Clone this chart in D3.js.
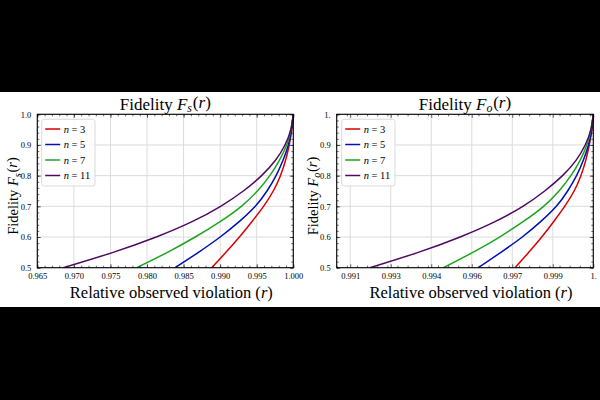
<!DOCTYPE html>
<html>
<head>
<meta charset="utf-8">
<script src="https://cdn.jsdelivr.net/npm/d3@7"></script>
<style>
  body { margin: 0; background: #000; }
  svg { display: block; }
  text { font-family: "Liberation Serif", "DejaVu Serif", serif; fill: #000; }
</style>
</head>
<body>
<svg width="600" height="400"></svg>
<script>
var fidelity = [0.5, 0.55, 0.6, 0.65, 0.7, 0.75, 0.8, 0.85, 0.9, 0.95, 1.0];

// F_s(r) panel: r values for each n
var rs3  = [0.98884, 0.99079, 0.99263, 0.99433, 0.99593, 0.99726, 0.99824, 0.99894, 0.99944, 0.99979, 1.0];
var rs5  = [0.98383, 0.98703, 0.99000, 0.99260, 0.99480, 0.99640, 0.99764, 0.99859, 0.99932, 0.99976, 1.0];
var rs7  = [0.97859, 0.98279, 0.98659, 0.98999, 0.99289, 0.99509, 0.99679, 0.99809, 0.99909, 0.99966, 1.0];
var rs11 = [0.96856, 0.97536, 0.98126, 0.98616, 0.99006, 0.99316, 0.99566, 0.99756, 0.99886, 0.99966, 1.0];

// F_o(r) panel: r values for each n
var ro3  = [0.99710, 0.99761, 0.99809, 0.99853, 0.99894, 0.99929, 0.99954, 0.99972, 0.99985, 0.99995, 1.0];
var ro5  = [0.99574, 0.99658, 0.99737, 0.99805, 0.99863, 0.99905, 0.99938, 0.99963, 0.99982, 0.99994, 1.0];
var ro7  = [0.99445, 0.99554, 0.99653, 0.99740, 0.99816, 0.99873, 0.99917, 0.99951, 0.99976, 0.99991, 1.0];
var ro11 = [0.99173, 0.99352, 0.99507, 0.99636, 0.99739, 0.99820, 0.99886, 0.99936, 0.99970, 0.99991, 1.0];

var nValues = [3, 5, 7, 11];
var colors = ["#d80000", "#0010b4", "#1ea51e", "#4e0a62"];

var yTicks = [0.5, 0.6, 0.7, 0.8, 0.9, 1.0];
var yTickLabelsS = ["0.5", "0.6", "0.7", "0.8", "0.9", "1.0"];
var yTickLabelsO = ["0.5", "0.6", "0.7", "0.8", "0.9", "1."];

var xTicksS = [0.965, 0.970, 0.975, 0.980, 0.985, 0.990, 0.995, 1.000];
var xTickLabelsS = ["0.965", "0.970", "0.975", "0.980", "0.985", "0.990", "0.995", "1.000"];
var xTicksO = [0.991, 0.9925, 0.994, 0.9955, 0.997, 0.9985, 1.0];
var xTickLabelsO = ["0.991", "0.993", "0.994", "0.996", "0.997", "0.999", "1."];

var svg = d3.select("svg");
svg.append("rect").attr("width", 600).attr("height", 400).attr("fill", "#000");
svg.append("rect").attr("y", 92).attr("width", 600).attr("height", 215).attr("fill", "#fff");

var panels = [
  { id: "s", sub: "s", left: 37.3, right: 293.3, domain: [0.965, 1.0], xTicks: xTicksS, xLabels: xTickLabelsS,
    minorStep: 0.001, yLabels: yTickLabelsS, series: [rs3, rs5, rs7, rs11], legendX: 41.7 },
  { id: "o", sub: "o", left: 336.7, right: 593.3, domain: [0.9905, 1.0], xTicks: xTicksO, xLabels: xTickLabelsO,
    minorStep: 0.000375, yLabels: yTickLabelsO, series: [ro3, ro5, ro7, ro11], legendX: 341.7 }
];
var plotTop = 114.3, plotBottom = 267.7;

function mathLabel(sel, sub) {
  sel.append("tspan").text("Fidelity ");
  sel.append("tspan").attr("font-style", "italic").text("F");
  sel.append("tspan").attr("font-style", "italic").attr("font-size", "70%").attr("dy", "0.25em").text(sub);
  sel.append("tspan").attr("dy", "-0.25em").attr("dx", "0.05em").text("(");
  sel.append("tspan").attr("font-style", "italic").text("r");
  sel.append("tspan").text(")");
}

panels.forEach(function(p) {
  var x = d3.scaleLinear().domain(p.domain).range([p.left, p.right]);
  var y = d3.scaleLinear().domain([0.5, 1.0]).range([plotBottom, plotTop]);
  var g = svg.append("g");

  g.append("clipPath").attr("id", "clip-" + p.id)
    .append("rect").attr("x", p.left).attr("y", plotTop - 1)
    .attr("width", p.right - p.left + 1).attr("height", plotBottom - plotTop + 1);

  // grid
  g.selectAll("line.gx").data(p.xTicks).enter().append("line")
    .attr("x1", d => x(d)).attr("x2", d => x(d)).attr("y1", plotTop).attr("y2", plotBottom)
    .attr("stroke", "#dcdcdc").attr("stroke-width", 1);
  g.selectAll("line.gy").data(yTicks).enter().append("line")
    .attr("y1", d => y(d)).attr("y2", d => y(d)).attr("x1", p.left).attr("x2", p.right)
    .attr("stroke", "#dcdcdc").attr("stroke-width", 1);

  // curves: smooth spline through the read points (F evenly spaced)
  var line = d3.line().curve(d3.curveNatural)
    .x(d => x(d[0])).y(d => y(d[1]));
  p.series.forEach(function(rv, i) {
    g.append("path")
      .datum(rv.map((r, k) => [r, fidelity[k]]))
      .attr("d", line)
      .attr("clip-path", "url(#clip-" + p.id + ")")
      .attr("fill", "none").attr("stroke", colors[i]).attr("stroke-width", 1.5);
  });

  // axes with inward ticks on all sides
  var minorX = d3.range(p.domain[0], p.domain[1] + 1e-9, p.minorStep);
  var minorY = d3.range(0.5, 1.0001, 0.02);
  g.append("g").attr("transform", `translate(0,${plotBottom})`)
    .call(d3.axisBottom(x).tickValues(minorX).tickSize(-2).tickFormat(""));
  g.append("g").attr("transform", `translate(0,${plotTop})`)
    .call(d3.axisTop(x).tickValues(minorX).tickSize(-2).tickFormat(""));
  g.append("g").attr("transform", `translate(${p.left},0)`)
    .call(d3.axisLeft(y).tickValues(minorY).tickSize(-2).tickFormat(""));
  g.append("g").attr("transform", `translate(${p.right},0)`)
    .call(d3.axisRight(y).tickValues(minorY).tickSize(-2).tickFormat(""));

  g.append("g").attr("class", "xAxis").attr("transform", `translate(0,${plotBottom})`)
    .call(d3.axisBottom(x).tickValues(p.xTicks).tickSize(-3.5).tickPadding(5)
      .tickFormat((d, i) => p.xLabels[i]));
  g.append("g").attr("transform", `translate(0,${plotTop})`)
    .call(d3.axisTop(x).tickValues(p.xTicks).tickSize(-3.5).tickFormat(""));
  g.append("g").attr("class", "yAxis").attr("transform", `translate(${p.left},0)`)
    .call(d3.axisLeft(y).tickValues(yTicks).tickSize(-3.5).tickPadding(6)
      .tickFormat((d, i) => p.yLabels[i]));
  g.append("g").attr("transform", `translate(${p.right},0)`)
    .call(d3.axisRight(y).tickValues(yTicks).tickSize(-3.5).tickFormat(""));

  g.selectAll(".domain").remove();
  g.selectAll(".tick line").attr("stroke", "#222").attr("stroke-width", 0.7);
  g.selectAll(".tick text").attr("font-family", "Liberation Serif, serif").attr("font-size", 8.5).attr("fill", "#000");

  g.append("rect").attr("x", p.left).attr("y", plotTop)
    .attr("width", p.right - p.left).attr("height", plotBottom - plotTop)
    .attr("fill", "none").attr("stroke", "#000").attr("stroke-width", 1.1);

  // titles
  var cx = (p.left + p.right) / 2;
  g.append("text").attr("x", cx).attr("y", 109.5).attr("text-anchor", "middle")
    .attr("font-size", 17).call(mathLabel, p.sub);
  var xl = g.append("text").attr("x", cx + 6).attr("y", 297.5).attr("text-anchor", "middle").attr("font-size", 16.5);
  xl.append("tspan").text("Relative observed violation (");
  xl.append("tspan").attr("font-style", "italic").text("r");
  xl.append("tspan").text(")");
  g.append("text").attr("transform", `translate(${p.left - 19},${(plotTop + plotBottom) / 2 + 5}) rotate(-90)`)
    .attr("text-anchor", "middle").attr("font-size", 14.5).call(mathLabel, p.sub);

  // legend
  var lg = g.append("g").attr("transform", `translate(${p.legendX},119.3)`);
  lg.append("rect").attr("width", 53.3).attr("height", 66.7).attr("rx", 2.5)
    .attr("fill", "#fff").attr("fill-opacity", 0.85).attr("stroke", "#d0d0d0").attr("stroke-width", 0.8);
  nValues.forEach(function(n, i) {
    var yy = 9.7 + i * 15.5;
    lg.append("line").attr("x1", 3.5).attr("x2", 18.5).attr("y1", yy).attr("y2", yy)
      .attr("stroke", colors[i]).attr("stroke-width", 1.5);
    var t = lg.append("text").attr("x", 22).attr("y", yy + 3.6).attr("font-size", 10.5);
    t.append("tspan").attr("font-style", "italic").text("n");
    t.append("tspan").text(" = " + n);
  });
});
</script>
</body>
</html>
